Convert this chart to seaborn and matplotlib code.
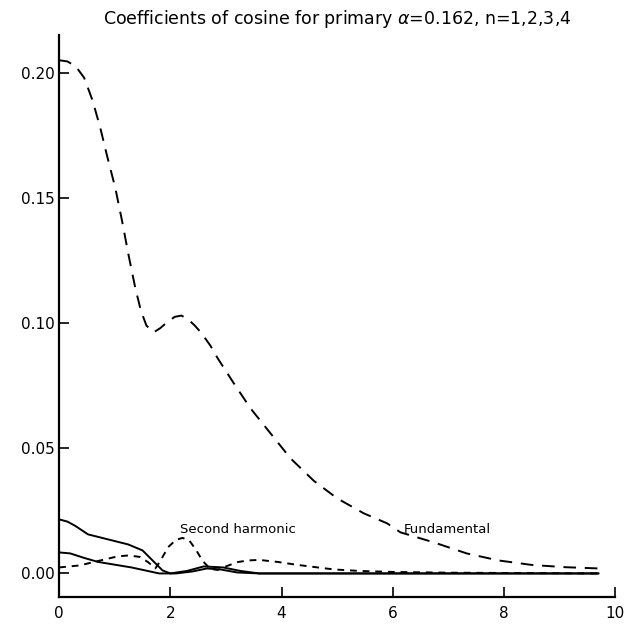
import matplotlib
matplotlib.use("Agg")
import matplotlib.pyplot as plt
import seaborn as sns

# values
fund_x = [0.0, 0.15, 0.3, 0.45, 0.6, 0.74, 0.86, 1.01, 1.13, 1.25, 1.37, 1.47, 1.57, 1.70,
          1.82, 1.95, 2.08, 2.2, 2.32, 2.44, 2.56, 2.72, 2.85, 3.14, 3.44, 3.80, 4.16, 4.58,
          5.0, 5.48, 5.9, 6.14, 6.74, 7.33, 7.9, 8.5, 9.1, 9.7]
fund_y = [0.205, 0.2045, 0.2025, 0.198, 0.189, 0.178, 0.167, 0.154, 0.141, 0.127, 0.114,
          0.105, 0.099, 0.0963, 0.098, 0.1005, 0.1025, 0.103, 0.1015, 0.099, 0.096, 0.091,
          0.086, 0.076, 0.066, 0.056, 0.046, 0.037, 0.030, 0.024, 0.020, 0.0164, 0.0124,
          0.008, 0.0052, 0.0034, 0.0025, 0.002]

second_x = [0.0, 0.37, 0.8, 1.05, 1.25, 1.45, 1.6, 1.73, 1.82, 1.96, 2.1, 2.22, 2.34, 2.46,
            2.58, 2.72, 2.85, 3.0, 3.2, 3.4, 3.6, 3.93, 4.29, 4.65, 4.94, 5.4, 6.0, 7.0, 9.7]
second_y = [0.0024, 0.0032, 0.0055, 0.0068, 0.0072, 0.0066, 0.0045, 0.002, 0.005, 0.0105,
            0.0134, 0.0142, 0.0132, 0.0095, 0.005, 0.0018, 0.0014, 0.0028, 0.0045, 0.0052,
            0.0054, 0.0046, 0.0034, 0.0024, 0.0016, 0.001, 0.0006, 0.0003, 0.0]

upper_x = [0.0, 0.15, 0.29, 0.52, 0.88, 1.24, 1.5, 1.68, 1.86, 2.0, 2.3, 2.6, 2.95, 3.26,
           3.6, 9.7]
upper_y = [0.0216, 0.0207, 0.019, 0.0156, 0.0136, 0.0116, 0.0092, 0.0052, 0.0012, 0.0,
           0.001, 0.0028, 0.0024, 0.001, 0.0, 0.0]

lower_x = [0.0, 0.2, 0.45, 0.7, 1.3, 1.55, 1.8, 2.1, 2.4, 2.66, 2.9, 3.2, 3.6, 9.7]
lower_y = [0.0084, 0.008, 0.0062, 0.0046, 0.0024, 0.0012, 0.0, 0.0, 0.0008, 0.002, 0.0016,
           0.0004, 0.0, 0.0]

x_ticks = [0, 2, 4, 6, 8, 10]
y_ticks = [0.00, 0.05, 0.10, 0.15, 0.20]

sns.set_style("ticks")
plt.rcParams['font.family'] = ['DejaVu Sans']
plt.rcParams['text.color'] = "black"

fig = plt.figure(figsize=(6.29, 6.28), dpi=100)
ax = fig.add_axes([0.094, 0.049, 0.884, 0.895])

sns.lineplot(x=fund_x, y=fund_y, ax=ax, color="black", lw=1.4, linestyle=(0, (6.5, 4.5)))
sns.lineplot(x=second_x, y=second_y, ax=ax, color="black", lw=1.4, linestyle=(0, (3.5, 3)))
sns.lineplot(x=upper_x, y=upper_y, ax=ax, color="black", lw=1.4)
sns.lineplot(x=lower_x, y=lower_y, ax=ax, color="black", lw=1.4)

ax.text(2.18, 0.0175, "Second harmonic", fontsize=9.5, va="center", ha="left", color="black")
ax.text(6.2, 0.0175, "Fundamental", fontsize=9.5, va="center", ha="left", color="black")

ax.set_xlim(0, 10)
ax.set_ylim(-0.0095, 0.215)
ax.set_xticks(x_ticks)
ax.set_yticks(y_ticks)
ax.set_xticklabels([str(t) for t in x_ticks])
ax.set_yticklabels([f"{t:.2f}" for t in y_ticks])
ax.tick_params(direction="in", length=7, width=1.2, labelsize=11, colors="black")
ax.tick_params(axis="x", pad=6)
sns.despine(ax=ax)
for s in ["left", "bottom"]:
    ax.spines[s].set_linewidth(1.6)
    ax.spines[s].set_color("black")

ax.set_title(r"Coefficients of cosine for primary $\alpha$=0.162, n=1,2,3,4",
             fontsize=12.5, pad=8, color="black")

fig.savefig("out.png", dpi=100)
